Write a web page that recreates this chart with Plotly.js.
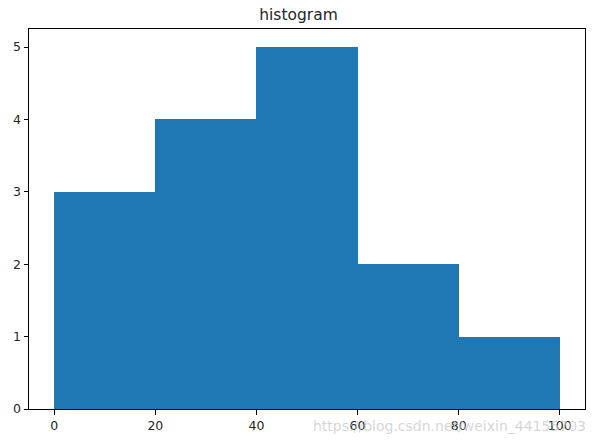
<!DOCTYPE html>
<html>
<head>
<meta charset="utf-8">
<script src="https://cdn.plot.ly/plotly-3.0.1.min.js"></script>
<style>html,body{margin:0;padding:0;background:#fff;}#chart{width:597px;height:444px;}</style>
</head>
<body>
<div id="chart"></div>
<script>
const binStarts = [0, 20, 40, 60, 80];
const binWidth = 20;
const counts = [3, 4, 5, 2, 1];
const xTicks = [0, 20, 40, 60, 80, 100];
const yTicks = [0, 1, 2, 3, 4, 5];
const titleText = "histogram";
const watermark = "https://blog.csdn.net/weixin_44155703";

const trace = {
  type: "bar",
  x: binStarts.map(s => s + binWidth / 2),
  y: counts,
  width: binStarts.map(() => binWidth),
  marker: {color: "#1f77b4", line: {width: 0}},
  hoverinfo: "none"
};

const font = {family: "DejaVu Sans", size: 12.5, color: "#262626"};
const layout = {
  width: 597, height: 444,
  margin: {l: 29, r: 12, t: 29, b: 35},
  paper_bgcolor: "#fff", plot_bgcolor: "#fff",
  showlegend: false,
  bargap: 0,
  title: {text: titleText, font: {family: "DejaVu Sans", size: 15.5, color: "#262626"}, x: 0.5, xanchor: "center", y: 0.968, yanchor: "middle"},
  xaxis: {
    range: [-5, 105], tickvals: xTicks, ticktext: xTicks.map(String),
    showgrid: false, zeroline: false, showline: true, linecolor: "#000", linewidth: 1, mirror: true,
    ticks: "outside", ticklen: 4.5, tickwidth: 1, tickcolor: "#000", tickfont: font
  },
  yaxis: {
    range: [0, 5.25], tickvals: yTicks, ticktext: yTicks.map(String),
    showgrid: false, zeroline: false, showline: true, linecolor: "#000", linewidth: 1, mirror: true,
    ticks: "outside", ticklen: 4.5, tickwidth: 1, tickcolor: "#000", tickfont: font
  },
  annotations: [{
    text: watermark, xref: "paper", yref: "paper", x: 1.005, y: -0.045, xanchor: "right", yanchor: "middle",
    showarrow: false, font: {family: "DejaVu Sans", size: 14, color: "rgba(200,200,200,0.75)"}
  }]
};

Plotly.newPlot("chart", [trace], layout, {displayModeBar: false, staticPlot: true});
</script>
</body>
</html>
